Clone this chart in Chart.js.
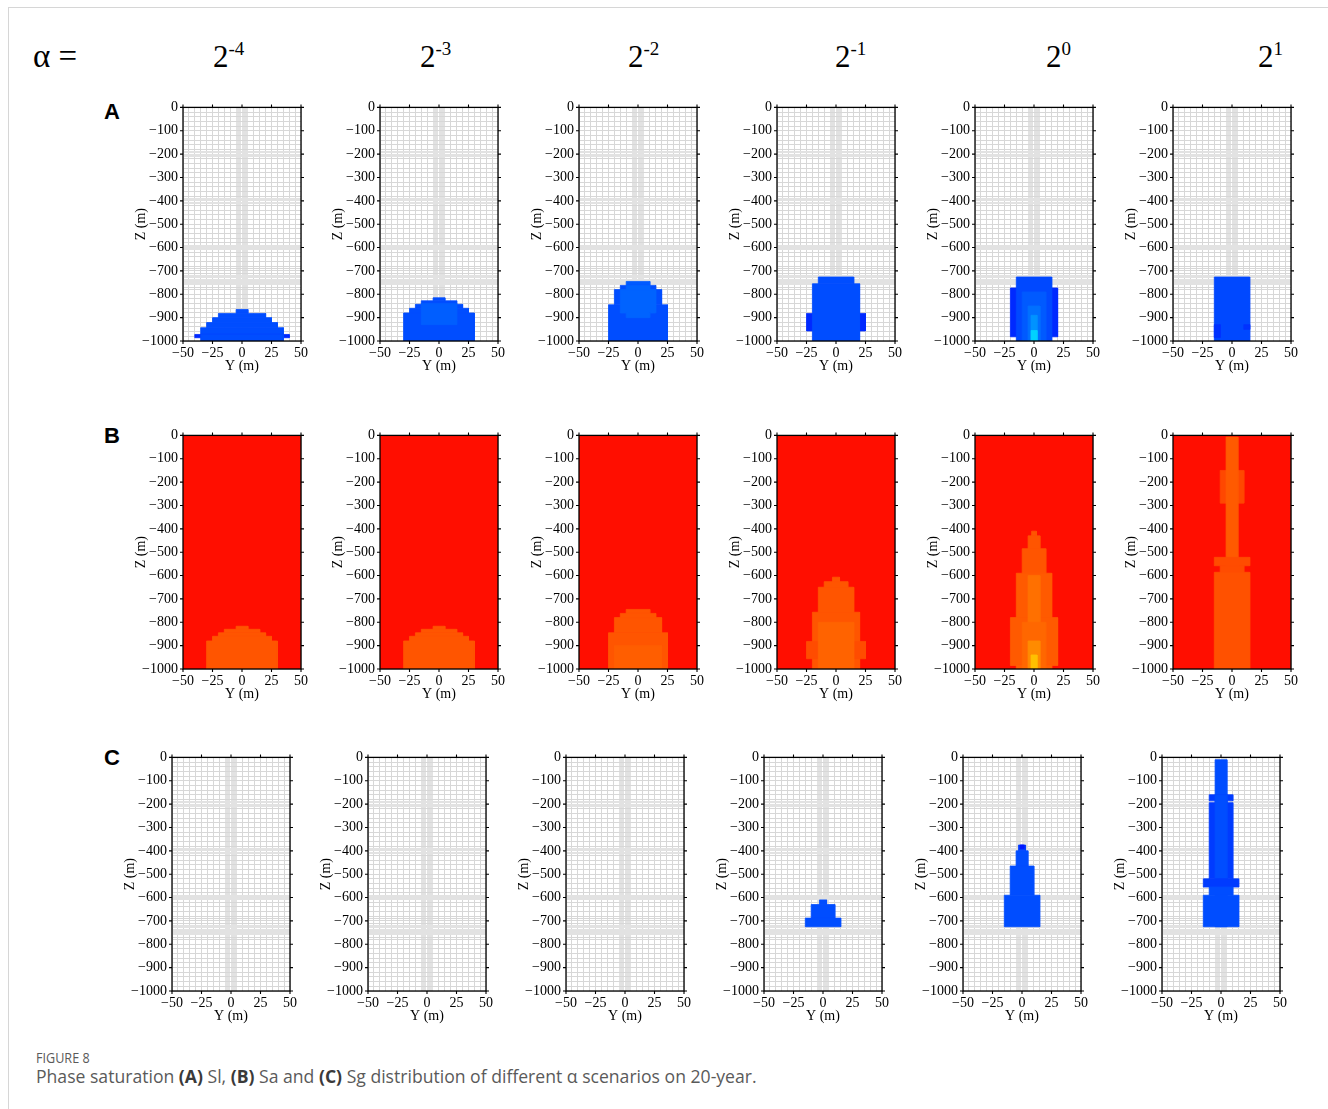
<!DOCTYPE html>
<html>
<head>
<meta charset="utf-8">
<title>Phase saturation for different α scenarios</title>
<script src="https://cdn.jsdelivr.net/npm/chart.js@4.4.1/dist/chart.umd.min.js"></script>
<style>
  html, body { margin: 0; padding: 0; background: #fff; }
  body { width: 1328px; height: 1109px; position: relative; overflow: hidden; }
  #card { position: absolute; left: 8px; top: 7px; width: 1330px; height: 1110px;
          border-left: 1px solid #d6d6d6; border-top: 1px solid #d6d6d6; }
  .serif { position: absolute; font-family: "Liberation Serif", "Times New Roman", serif; color: #000;
           white-space: nowrap; line-height: 31px; }
  .alpha { left: 33px; top: 41px; font-size: 33px; }
  .pow { top: 41px; font-size: 31px; }
  .pow .sup { font-size: 19px; position: relative; top: -12px; }
  .rowlab { position: absolute; left: 104px; font-family: "Liberation Sans", Arial, sans-serif;
            font-weight: bold; font-size: 22px; line-height: 22px; color: #000; }
  canvas { position: absolute; }
  .figno { position: absolute; left: 36px; top: 1050px; font-family: "Open Sans", sans-serif;
           font-size: 15px; line-height: 15px; color: #5a5a5a; transform: scaleX(0.84);
           transform-origin: 0 0; }
  .cap { position: absolute; left: 36px; top: 1067px; font-family: "Open Sans", sans-serif;
         font-size: 17.6px; line-height: 18px; color: #5a5a5a; white-space: nowrap; }
  .cap b { color: #3a3a3a; }
</style>
</head>
<body>
<div id="card"></div>
<div class="serif alpha">α =</div>
<div class="figno">FIGURE 8</div>
<div class="cap">Phase saturation <b>(A)</b> Sl, <b>(B)</b> Sa and <b>(C)</b> Sg distribution of different α scenarios on 20-year.</div>

<script>
// ---- scenario labels ----
const alphaExponents = ['-4', '-3', '-2', '-1', '0', '1'];
const rowLetters = ['A', 'B', 'C'];
const axisTitleY = 'Y (m)';
const axisTitleZ = 'Z (m)';

// ---- tick labels ----
const yTickValues = [-50, -25, 0, 25, 50];
const zTickValues = [0, -100, -200, -300, -400, -500, -600, -700, -800, -900, -1000];

// ---- simulation mesh (cell edges, metres) ----
const meshY = [-50, -45, -40, -35, -30, -25, -20, -15, -10, -5, -4, -3, -2, -1, 0,
               1, 2, 3, 4, 5, 10, 15, 20, 25, 30, 35, 40, 45, 50];
const meshZ = [0, -20, -40, -60, -80, -100, -120, -140, -160, -180, -190, -195, -200, -205, -210,
               -220, -240, -260, -280, -300, -320, -340, -360, -380, -390, -395, -400, -405, -410,
               -420, -440, -460, -480, -500, -520, -540, -560, -580, -590, -595, -600, -605, -610,
               -620, -640, -660, -680, -690, -700, -710, -720, -725, -730, -735, -740, -743, -746,
               -749, -752, -755, -758, -760, -770, -780, -800, -820, -840, -860, -880, -900, -920,
               -940, -960, -980, -1000];

// ---- saturation cells: [yMin, yMax, zTop, zBottom, saturation] ----
// (A) Sl — liquid CO2 saturation
const slCells = [
  [[-5, 5, -865, -882, 0.23], [-20, 20, -882, -900, 0.23], [-25, 25, -900, -921, 0.23],
   [-30, 30, -921, -943, 0.23], [-35, 35, -943, -972, 0.23], [-40, 40, -972, -986, 0.19],
   [-35, 35, -972, -1000, 0.23]],
  [[-5, 5, -815, -828, 0.23], [-15, 15, -828, -843, 0.23], [-20, 20, -843, -860, 0.23],
   [-25, 25, -860, -880, 0.23], [-30, 30, -880, -1000, 0.23], [-15, 15, -840, -930, 0.25]],
  [[-10, 10, -745, -762, 0.245], [-15, 15, -762, -780, 0.23], [-20, 20, -780, -845, 0.23],
   [-25, 25, -845, -1000, 0.23], [-10, 10, -762, -780, 0.255], [-15, 15, -780, -880, 0.255],
   [-10, 10, -880, -900, 0.255]],
  [[-15, 15, -726, -755, 0.23], [-25, 25, -882, -957, 0.19], [-20, 20, -755, -1000, 0.23]],
  [[-20, 20, -773, -982, 0.19], [-15, 15, -726, -1000, 0.225], [-10, 10, -790, -1000, 0.245],
   [-5, 5, -850, -1000, 0.27], [-2.5, 2.5, -890, -1000, 0.31], [-2.5, 2.5, -955, -1000, 0.38]],
  [[-15, 15, -726, -1000, 0.225], [-15, -10, -930, -985, 0.2], [10, 15, -930, -950, 0.2]]
];

// (B) Sa — aqueous saturation; the whole domain starts from the brine value
const saBase = [-50, 50, 0, -1000, 0.99];
const saCells = [
  [[-5, 5, -817, -830, 0.91], [-15, 15, -830, -845, 0.91], [-20, 20, -845, -860, 0.91],
   [-25, 25, -860, -880, 0.91], [-30, 30, -880, -1000, 0.91]],
  [[-5, 5, -817, -830, 0.91], [-15, 15, -830, -845, 0.91], [-20, 20, -845, -860, 0.91],
   [-25, 25, -860, -880, 0.91], [-30, 30, -880, -1000, 0.91]],
  [[-10, 10, -745, -762, 0.91], [-15, 15, -762, -780, 0.91], [-20, 20, -780, -845, 0.91],
   [-25, 25, -845, -1000, 0.91], [-20, 20, -900, -1000, 0.9]],
  [[-3, 3, -607, -626, 0.91], [-10, 10, -626, -650, 0.91], [-15, 15, -650, -757, 0.91],
   [-20, 20, -757, -1000, 0.91], [-25, 25, -882, -956, 0.92], [-15, 15, -800, -1000, 0.895]],
  [[-2, 2, -410, -430, 0.91], [-5, 5, -430, -485, 0.91], [-10, 10, -485, -590, 0.91],
   [-15, 15, -590, -780, 0.905], [-20, 20, -780, -985, 0.905], [-15, 15, -985, -1000, 0.9],
   [-5, 5, -600, -1000, 0.88], [-10, 10, -800, -1000, 0.89], [-5, 5, -880, -1000, 0.85],
   [-2.5, 2.5, -940, -1000, 0.79]],
  [[-10, 10, -150, -290, 0.925], [-5, 5, -7, -580, 0.905], [-15, 15, -522, -558, 0.92],
   [-10, 10, -558, -586, 0.92], [-15, 15, -586, -1000, 0.915]]
];

// (C) Sg — gas saturation
const sgCells = [
  [], [], [],
  [[-3, 3, -610, -630, 0.23], [-10, 10, -630, -688, 0.23], [-15, 15, -688, -725, 0.23]],
  [[-3, 3, -375, -400, 0.21], [-1.5, 1.5, -375, -390, 0.17], [-5, 5, -400, -465, 0.23],
   [-10, 10, -465, -590, 0.23], [-15, 15, -590, -725, 0.23]],
  [[-5, 5, -10, -725, 0.23], [-10, 10, -160, -186, 0.21], [-10, 10, -194, -520, 0.21],
   [-5, 5, -160, -520, 0.23], [-15, 15, -520, -555, 0.21], [-10, 10, -555, -590, 0.23],
   [-15, 15, -590, -725, 0.23]]
];

// ---- layout ----
const PLOT_W = 118, PLOT_H = 235;
const PAD_L = 62, PAD_T = 12, PAD_R = 12, PAD_B = 40;
const rowTops = [106, 434, 756];
const rowAxisX = [
  [183, 380, 579, 777, 975, 1173],
  [183, 380, 579, 777, 975, 1173],
  [172, 368, 566, 764, 963, 1162]
];
const headerLeft = [213, 420, 628, 835, 1046, 1258];
const rowLabelTop = [101, 425, 747];

const SERIF = '"Liberation Serif", "Times New Roman", serif';
const MESH_COARSE = '#d7d7d7';
const MESH_FINE = '#e2e2e2';

// a mesh line counts as "fine" when a neighbouring edge is closer than the given gap
function fineSet(edges, gap) {
  const s = new Set();
  edges.forEach((v, i) => {
    const prev = i > 0 ? Math.abs(v - edges[i - 1]) : Infinity;
    const next = i < edges.length - 1 ? Math.abs(edges[i + 1] - v) : Infinity;
    if (Math.min(prev, next) < gap) s.add(v);
  });
  return s;
}
const fineY = fineSet(meshY, 5);
const fineZ = fineSet(meshZ, 10);

// jet colour map over saturation
function satColor(s) {
  const v = s / 1.15;
  const c = t => Math.round(255 * Math.max(0, Math.min(1, t)));
  return `rgb(${c(1.5 - Math.abs(4 * v - 3))},${c(1.5 - Math.abs(4 * v - 2))},${c(1.5 - Math.abs(4 * v - 1))})`;
}

function fmt(v) {
  return v < 0 ? '\u2212' + Math.abs(v) : String(v);
}

// frame around the plot area plus outward major tick marks on all four sides
const framePlugin = {
  id: 'frameTicks',
  afterDraw(chart) {
    const { ctx, chartArea: a, scales: { x, y } } = chart;
    ctx.save();
    ctx.strokeStyle = '#000';
    ctx.lineWidth = 1.3;
    ctx.strokeRect(a.left, a.top, a.right - a.left, a.bottom - a.top);
    ctx.lineWidth = 1.1;
    ctx.beginPath();
    for (const v of yTickValues) {
      const px = x.getPixelForValue(v);
      ctx.moveTo(px, a.bottom); ctx.lineTo(px, a.bottom + 3);
      ctx.moveTo(px, a.top); ctx.lineTo(px, a.top - 3);
    }
    for (const v of zTickValues) {
      const py = y.getPixelForValue(v);
      ctx.moveTo(a.left, py); ctx.lineTo(a.left - 3, py);
      ctx.moveTo(a.right, py); ctx.lineTo(a.right + 3, py);
    }
    ctx.stroke();
    ctx.restore();
  }
};

function cellDataset(cell) {
  const [y0, y1, zt, zb, s] = cell;
  const col = satColor(s);
  return {
    data: [{ x: y0, y: zt }, { x: y1, y: zt }, { x: y1, y: zb }, { x: y0, y: zb }, { x: y0, y: zt }],
    showLine: true,
    fill: 'shape',
    backgroundColor: col,
    borderColor: col,
    borderWidth: 0.8,
    pointRadius: 0,
    pointHoverRadius: 0,
    tension: 0
  };
}

function makePanel(left, top, cells) {
  const canvas = document.createElement('canvas');
  const w = PAD_L + PLOT_W + PAD_R, h = PAD_T + PLOT_H + PAD_B;
  canvas.width = w; canvas.height = h;
  canvas.style.left = (left - PAD_L) + 'px';
  canvas.style.top = (top - PAD_T) + 'px';
  canvas.style.width = w + 'px'; canvas.style.height = h + 'px';
  document.body.appendChild(canvas);

  // later cells paint over earlier ones (Chart.js draws the last dataset first)
  const datasets = cells.slice().reverse().map(cellDataset);

  new Chart(canvas, {
    type: 'scatter',
    data: { datasets },
    plugins: [framePlugin],
    options: {
      responsive: false,
      animation: false,
      events: [],
      devicePixelRatio: 1,
      layout: { padding: { left: 0, top: PAD_T, right: PAD_R, bottom: 0 } },
      plugins: { legend: { display: false }, tooltip: { enabled: false } },
      scales: {
        x: {
          type: 'linear', min: -50, max: 50,
          afterBuildTicks: s => { s.ticks = meshY.map(v => ({ value: v })); },
          afterFit: s => { s.height = PAD_B; },
          grid: { color: c => (fineY.has(c.tick && c.tick.value) ? MESH_FINE : MESH_COARSE),
                  lineWidth: 1, drawTicks: false },
          border: { display: false },
          ticks: {
            autoSkip: false, maxRotation: 0, minRotation: 0, padding: 4, color: '#000',
            font: { family: SERIF, size: 14 },
            callback: v => (yTickValues.includes(v) ? fmt(v) : '')
          },
          title: { display: true, text: axisTitleY, color: '#000', font: { family: SERIF, size: 14 },
                   padding: { top: 0, bottom: 6.6 } }
        },
        y: {
          type: 'linear', min: -1000, max: 0,
          afterBuildTicks: s => { s.ticks = meshZ.map(v => ({ value: v })); },
          afterFit: s => { s.width = PAD_L; },
          grid: { color: c => (fineZ.has(c.tick && c.tick.value) ? MESH_FINE : MESH_COARSE),
                  lineWidth: 1, drawTicks: false },
          border: { display: false },
          ticks: {
            autoSkip: false, padding: 5, color: '#000',
            font: { family: SERIF, size: 14 },
            callback: v => (zTickValues.includes(v) ? fmt(v) : '')
          },
          title: { display: true, text: axisTitleZ, color: '#000', font: { family: SERIF, size: 14 },
                   padding: { top: 11.6, bottom: 0 } }
        }
      }
    }
  });
}

// column headers
alphaExponents.forEach((e, i) => {
  const d = document.createElement('div');
  d.className = 'serif pow';
  d.style.left = headerLeft[i] + 'px';
  d.innerHTML = '2<span class="sup">' + e + '</span>';
  document.body.appendChild(d);
});

// row letters
rowLetters.forEach((l, r) => {
  const d = document.createElement('div');
  d.className = 'rowlab';
  d.style.top = rowLabelTop[r] + 'px';
  d.textContent = l;
  document.body.appendChild(d);
});

// panels
for (let c = 0; c < 6; c++) {
  makePanel(rowAxisX[0][c], rowTops[0], slCells[c]);
  makePanel(rowAxisX[1][c], rowTops[1], [saBase].concat(saCells[c]));
  makePanel(rowAxisX[2][c], rowTops[2], sgCells[c]);
}
</script>
</body>
</html>
